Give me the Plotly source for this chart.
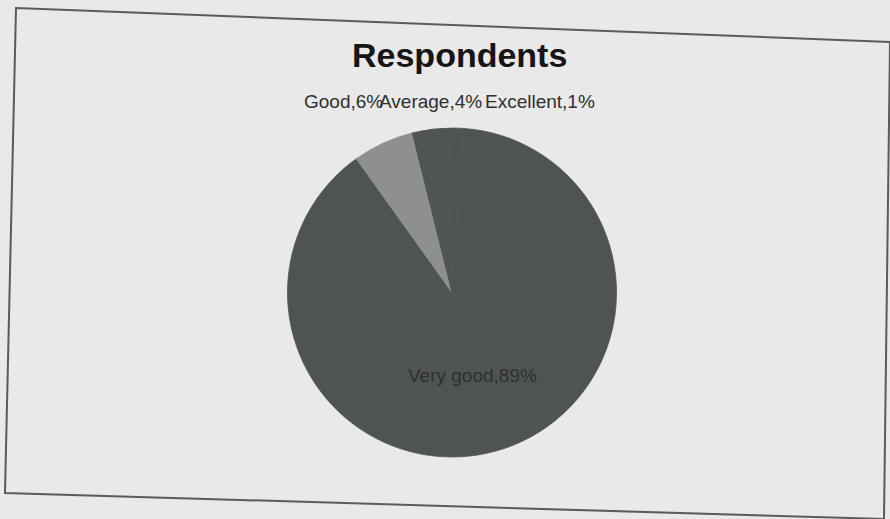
import plotly.graph_objects as go

# Data
categories = ["Very good", "Good", "Average", "Excellent"]
values = [89, 6, 4, 1]
title_text = "Respondents"

slice_colors = ["#4f5451", "#8d908e", "#505552", "#4f5451"]

W, H = 890, 519

fig = go.Figure()
fig.add_trace(go.Pie(
    labels=categories,
    values=values,
    sort=False,
    direction="clockwise",
    rotation=4,
    marker=dict(colors=slice_colors, line=dict(width=0.8, color=slice_colors)),
    textinfo="none",
    hoverinfo="label+percent",
    showlegend=False,
    domain=dict(x=[287 / W, 617 / W], y=[1 - 457 / H, 1 - 128 / H]),
))

label_texts = [f"{c},{v}%" for c, v in zip(categories, values)]
# label placement (pixel positions of label anchors)
label_pos = {
    "Very good": (472, 375, "center"),
    "Good": (302, 101, "left"),
    "Average": (377, 101, "left"),
    "Excellent": (483, 101, "left"),
}
annotations = []
for c, t in zip(categories, label_texts):
    px, py, anchor = label_pos[c]
    annotations.append(dict(
        x=px / W, y=1 - py / H, xref="paper", yref="paper",
        text=t, showarrow=False, xanchor=anchor, yanchor="middle",
        font=dict(family="Liberation Sans, Arial, sans-serif", size=19, color="#2e302f"),
    ))

annotations.append(dict(
    x=459 / W, y=1 - 55 / H, xref="paper", yref="paper",
    text=f"<b>{title_text}</b>", showarrow=False, xanchor="center", yanchor="middle",
    font=dict(family="Liberation Sans, Arial, sans-serif", size=34, color="#141514"),
))

# border of the printed chart area (slightly skewed photo)
pts = [(16, 8), (890, 42), (884, 519), (5, 493)]
path = "M " + " L ".join(f"{x / W},{1 - y / H}" for x, y in pts) + " Z"

fig.update_layout(
    width=W, height=H,
    margin=dict(l=0, r=0, t=0, b=0),
    paper_bgcolor="#e8e9e8",
    plot_bgcolor="#e8e9e8",
    annotations=annotations,
    shapes=[dict(type="path", xref="paper", yref="paper", path=path,
                 line=dict(color="#5a5c5b", width=2), layer="below")],
)

fig.write_html(
    "out.html",
    config={"displayModeBar": False},
    post_script="document.body.style.margin='0';document.body.style.background='#e8e9e8';",
)
